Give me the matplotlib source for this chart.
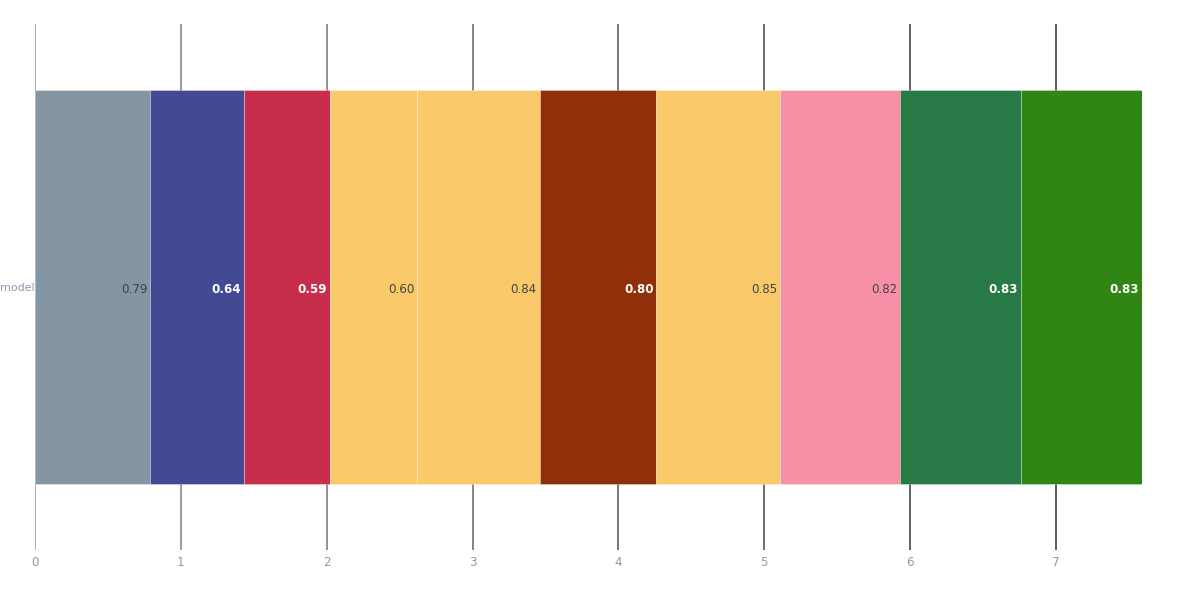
import matplotlib
matplotlib.use("Agg")
import matplotlib.pyplot as plt
import numpy as np

category = "model"
values = [0.79, 0.64, 0.59, 0.60, 0.84, 0.80, 0.85, 0.82, 0.83, 0.83]
colors = ["#8495A3", "#434A93", "#C92D4C", "#FAC96A", "#FAC96A",
          "#8F300B", "#FAC96A", "#F78FA6", "#277A45", "#308514"]
label_white = [False, True, True, False, False, True, False, False, True, True]
xticks = [0, 1, 2, 3, 4, 5, 6, 7]

fig = plt.figure(figsize=(12, 6), dpi=100)
ax = fig.add_axes([35 / 1200, 50 / 600, 1107 / 1200, 526 / 600])

total = sum(values)
ax.set_xlim(0, total)
ax.set_ylim(-0.5, 0.5)

# gridlines, darkening left to right
grid_cols = ["#9a9c9e", "#7d8185", "#72767b", "#5f646a", "#50555c",
             "#42474e", "#363b42", "#2b3037"]
for t, c in zip(xticks, grid_cols):
    ax.axvline(t, color=c, lw=1.1, zorder=0)

left = 0.0
for v, c, w in zip(values, colors, label_white):
    ax.barh(0, v, left=left, height=0.75, color=c,
            edgecolor=(1, 1, 1, 0.35), linewidth=0.6, zorder=2)
    ax.annotate(f"{v:.2f}", xy=(left + v, 0), xytext=(-2, -1),
                textcoords="offset points", ha="right", va="center_baseline",
                fontsize=8.6, color="white" if w else "#444444",
                fontweight="bold" if w else "normal", zorder=3)
    left += v

ax.set_xticks(xticks)
ax.set_xticklabels([str(t) for t in xticks])
ax.set_yticks([0])
ax.set_yticklabels([category])
ax.tick_params(axis="x", length=0, pad=4, labelsize=8.6, labelcolor="#8a9bb0")
ax.tick_params(axis="y", length=0, pad=0.5, labelsize=8, labelcolor="#8a9bb0")
for s in ax.spines.values():
    s.set_visible(False)

fig.savefig("out.png", dpi=100)
